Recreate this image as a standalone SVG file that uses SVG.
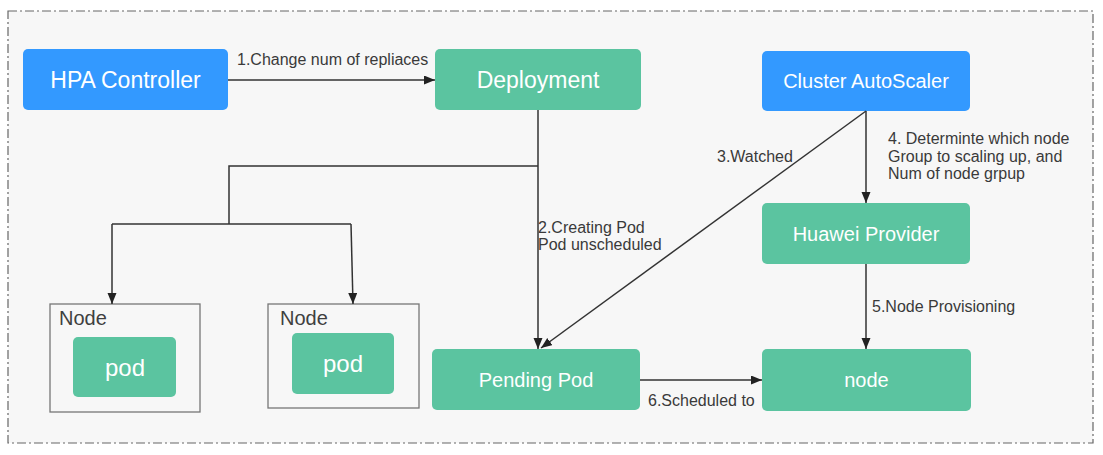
<svg xmlns="http://www.w3.org/2000/svg" width="1103" height="455" viewBox="0 0 1103 455">
<defs>
<marker id="arr" markerUnits="userSpaceOnUse" markerWidth="12" markerHeight="10" refX="11" refY="4.5" orient="auto">
<path d="M0,0 L11,4.5 L0,9 z" fill="#222"/>
</marker>
<style>
.blue{fill:#3399ff}
.green{fill:#5bc4a0}
.big{font-family:"Liberation Sans",Arial,sans-serif;fill:#fff;text-anchor:middle}
.lbl{font-family:"Liberation Sans",Arial,sans-serif;font-size:16px;fill:#3a3a3a}
.conn{fill:none;stroke:#333;stroke-width:1.5}
.nodebox{fill:#f7f7f7;stroke:#777;stroke-width:1.3}
.nodet{font-family:"Liberation Sans",Arial,sans-serif;font-size:20px;fill:#3f3f3f}
</style>
</defs>
<rect x="0" y="0" width="1103" height="455" fill="#fff"/>
<rect x="8" y="11" width="1085" height="432" fill="#f7f7f7" stroke="#666" stroke-width="1.2" stroke-dasharray="9 3 2 3"/>

<g id="hpa">
<rect class="blue" x="23" y="49" width="205" height="61" rx="5"/>
<text class="big" x="125.5" y="88" font-size="23">HPA Controller</text>
</g>
<g id="deployment">
<rect class="green" x="435" y="49" width="206" height="61" rx="5"/>
<text class="big" x="538" y="88" font-size="23">Deployment</text>
</g>
<g id="autoscaler">
<rect class="blue" x="762" y="51" width="208" height="60" rx="5"/>
<text class="big" x="866" y="88" font-size="20">Cluster AutoScaler</text>
</g>
<g id="provider">
<rect class="green" x="762" y="203" width="208" height="61" rx="5"/>
<text class="big" x="866" y="240.5" font-size="20">Huawei Provider</text>
</g>
<g id="nodeTarget">
<rect class="green" x="762" y="349" width="209" height="62" rx="5"/>
<text class="big" x="866.5" y="387" font-size="20">node</text>
</g>
<g id="pending">
<rect class="green" x="432" y="349" width="208" height="61" rx="5"/>
<text class="big" x="536" y="386.5" font-size="20">Pending Pod</text>
</g>
<g id="node1">
<rect class="nodebox" x="50" y="304" width="150" height="108"/>
<text class="nodet" x="59" y="325">Node</text>
<rect class="green" x="73" y="337" width="103" height="60" rx="5"/>
<text class="big" x="125" y="376" font-size="24">pod</text>
</g>
<g id="node2">
<rect class="nodebox" x="268" y="304" width="151" height="104"/>
<text class="nodet" x="280" y="325">Node</text>
<rect class="green" x="292" y="333" width="102" height="61" rx="5"/>
<text class="big" x="343" y="371.5" font-size="24">pod</text>
</g>

<g id="connectors">
<line class="conn" x1="228" y1="80" x2="435" y2="80" marker-end="url(#arr)"/>
<line class="conn" x1="538" y1="110" x2="538" y2="349" marker-end="url(#arr)"/>
<polyline class="conn" points="538,166 229,166 229,224"/>
<polyline class="conn" points="112,224 351,224"/>
<line class="conn" x1="112" y1="224" x2="112" y2="304" marker-end="url(#arr)"/>
<line class="conn" x1="351" y1="224" x2="353" y2="304" marker-end="url(#arr)"/>
<line class="conn" x1="866" y1="111" x2="541" y2="348" marker-end="url(#arr)"/>
<line class="conn" x1="866" y1="111" x2="866" y2="203" marker-end="url(#arr)"/>
<line class="conn" x1="866" y1="264" x2="866" y2="349" marker-end="url(#arr)"/>
<line class="conn" x1="640" y1="380" x2="762" y2="380" marker-end="url(#arr)"/>
<text class="lbl" x="237" y="65">1.Change num of repliaces</text>
<text class="lbl" x="538" y="233">2.Creating Pod</text>
<text class="lbl" x="538" y="250">Pod unscheduled</text>
<text class="lbl" x="717" y="162">3.Watched</text>
<text class="lbl" x="888" y="144">4. Determinte which node</text>
<text class="lbl" x="888" y="162">Group to scaling up, and</text>
<text class="lbl" x="888" y="179">Num of node grpup</text>
<text class="lbl" x="872" y="312">5.Node Provisioning</text>
<text class="lbl" x="648" y="406">6.Scheduled to</text>
</g>
</svg>
